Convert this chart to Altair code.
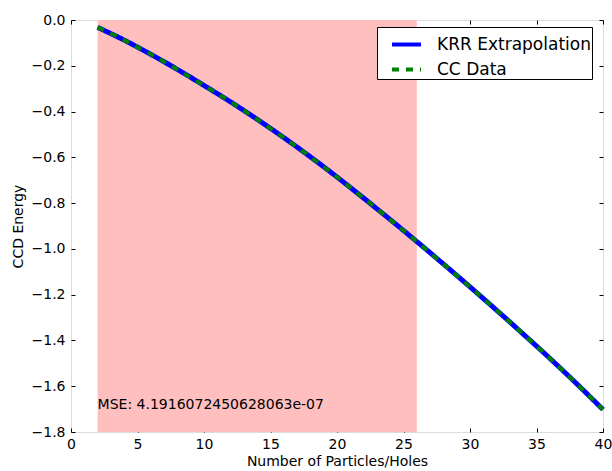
import altair as alt
import pandas as pd

# ---- data ----
n_particles = [2, 4, 6, 8, 10, 12, 14, 16, 18, 20, 22, 24, 26, 28, 30, 32, 34, 36, 38, 40]
krr_energy = [-0.032, -0.088, -0.150, -0.216, -0.286, -0.358, -0.434, -0.514, -0.598, -0.686,
              -0.778, -0.872, -0.968, -1.066, -1.166, -1.268, -1.372, -1.478, -1.588, -1.702]
cc_energy = [-0.032, -0.088, -0.150, -0.216, -0.286, -0.358, -0.434, -0.514, -0.598, -0.686,
             -0.778, -0.872, -0.968, -1.066, -1.166, -1.268, -1.372, -1.478, -1.588, -1.702]
series_names = ["KRR Extrapolation", "CC Data"]
training_start = [2]
training_end = [26]
mse_text = ["MSE: 4.1916072450628063e-07"]
mse_pos_x = [2]
mse_pos_y = [-1.7]
x_ticks = [0, 5, 10, 15, 20, 25, 30, 35, 40]
y_ticks = [-1.8, -1.6, -1.4, -1.2, -1.0, -0.8, -0.6, -0.4, -0.2, 0.0]

lines = pd.DataFrame(
    {"n": n_particles * 2,
     "energy": krr_energy + cc_energy,
     "series": [series_names[0]] * len(n_particles) + [series_names[1]] * len(n_particles)}
)
band = pd.DataFrame({"x": training_start, "x2": training_end, "y": [0.0], "y2": [-1.8]})
txt = pd.DataFrame({"x": mse_pos_x, "y": mse_pos_y, "label": mse_text})

FONT = "DejaVu Sans"
xscale = alt.Scale(domain=[0, 40], nice=False)
yscale = alt.Scale(domain=[-1.8, 0.0], nice=False)

tick_style = dict(domain=False, grid=False, tickSize=4, offset=-4, tickColor="black",
                  tickWidth=1, labelFont=FONT, labelFontSize=14, labelColor="black",
                  labelFlush=False, labelOverlap=False)
title_style = dict(titleFont=FONT, titleFontSize=14, titleColor="black", titleFontWeight="normal")

x_bottom = alt.Axis(orient="bottom", values=x_ticks, format="d", labelPadding=5,
                    title="Number of Particles/Holes", titlePadding=3, **tick_style, **title_style)
y_left = alt.Axis(orient="left", values=y_ticks, format=".1f", labelPadding=6,
                  title="CCD Energy", titlePadding=6, **tick_style, **title_style)
x_top = alt.Axis(orient="top", values=x_ticks, labels=False, title=None, **tick_style)
y_right = alt.Axis(orient="right", values=y_ticks, labels=False, title=None, **tick_style)

shade = alt.Chart(band).mark_rect(color="#ffbfbf", opacity=1).encode(
    x=alt.X("x:Q", scale=xscale, axis=x_bottom),
    x2="x2:Q",
    y=alt.Y("y:Q", scale=yscale, axis=y_left),
    y2="y2:Q",
)

legend = alt.Legend(
    title=None, orient="none", legendX=306, legendY=7,
    strokeColor="black", fillColor="white", padding=1, cornerRadius=0,
    symbolType="stroke", symbolSize=841, symbolStrokeWidth=4, symbolOffset=12,
    labelFont=FONT, labelFontSize=17, labelColor="black", labelOffset=14,
    labelExpr="datum.label + ' '",
    rowPadding=-4,
)
color = alt.Color("series:N", scale=alt.Scale(domain=series_names, range=["#0000ff", "#008000"]),
                  legend=legend)
dash = alt.StrokeDash("series:N", scale=alt.Scale(domain=series_names, range=[[1, 0], [7, 7]]),
                      legend=legend)

krr_line = alt.Chart(lines).transform_filter(
    alt.datum.series == series_names[0]
).mark_line(strokeWidth=5, interpolate="monotone").encode(
    x=alt.X("n:Q", scale=xscale, axis=x_top),
    y=alt.Y("energy:Q", scale=yscale, axis=y_right),
    color=color,
    strokeDash=dash,
)

cc_line = alt.Chart(lines).transform_filter(
    alt.datum.series == series_names[1]
).mark_line(strokeWidth=4, interpolate="monotone").encode(
    x=alt.X("n:Q", scale=xscale, axis=None),
    y=alt.Y("energy:Q", scale=yscale, axis=None),
    color=color,
    strokeDash=dash,
)

label = alt.Chart(txt).mark_text(align="left", baseline="alphabetic", font=FONT,
                                  fontSize=14, color="black").encode(
    x=alt.X("x:Q", scale=xscale, axis=None),
    y=alt.Y("y:Q", scale=yscale, axis=None),
    text="label:N",
)

chart = alt.layer(shade, krr_line, cc_line, label).resolve_axis(
    x="independent", y="independent"
).properties(
    width=532, height=412,
    autosize=alt.AutoSizeParams(type="none"),
    padding={"left": 71, "top": 20, "right": 9, "bottom": 39},
).configure_view(
    stroke="black", strokeWidth=1
).configure(background="white")

chart.save("out.html", embed_options={"renderer": "svg", "actions": False})
